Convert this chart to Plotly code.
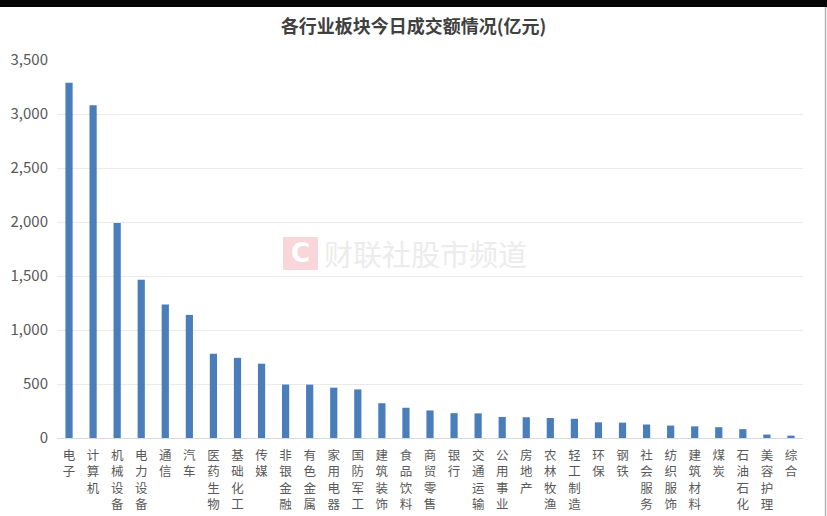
import plotly.graph_objects as go

title = "各行业板块今日成交额情况(亿元)"
categories = ["电子", "计算机", "机械设备", "电力设备", "通信", "汽车", "医药生物", "基础化工",
              "传媒", "非银金融", "有色金属", "家用电器", "国防军工", "建筑装饰", "食品饮料",
              "商贸零售", "银行", "交通运输", "公用事业", "房地产", "农林牧渔", "轻工制造",
              "环保", "钢铁", "社会服务", "纺织服饰", "建筑材料", "煤炭", "石油石化", "美容护理", "综合"]
values = [3290, 3080, 1990, 1465, 1235, 1140, 780, 742, 688, 495, 494, 466, 450, 322, 280,
          255, 230, 228, 195, 192, 185, 178, 145, 142, 125, 115, 108, 100, 82, 32, 22]
y_ticks = [0, 500, 1000, 1500, 2000, 2500, 3000, 3500]
watermark = "财联社股市频道"

FONT = "Noto Sans CJK SC"
labels = ["<br>".join(list(c)) for c in categories]

fig = go.Figure(go.Bar(
    x=labels, y=values,
    marker=dict(color="#4A7EBB", line=dict(width=0)),
    width=0.3,
    hoverinfo="x+y",
))

L, R, T, B = 57, 24, 60, 78
W, H = 827, 516
pw, ph = W - L - R, H - T - B

def px_x(p):
    return (p - L) / pw

def px_y(p):
    return (H - B - p) / ph

shapes = [
    # top dark band
    dict(type="rect", xref="paper", yref="paper", x0=px_x(-5), x1=px_x(W + 5),
         y0=px_y(7), y1=px_y(-5), fillcolor="#050505", line=dict(width=0), layer="above"),
    # right border line
    dict(type="line", xref="paper", yref="paper", x0=px_x(825.5), x1=px_x(825.5),
         y0=px_y(H + 5), y1=px_y(7), line=dict(color="#b5b5b5", width=1.5)),
    # watermark logo
    dict(type="rect", xref="paper", yref="paper", x0=px_x(283), x1=px_x(318),
         y0=px_y(270), y1=px_y(237), fillcolor="#f9d6da", line=dict(width=0), layer="below"),
]

annotations = [
    dict(text="<b>C</b>", xref="paper", yref="paper", x=px_x(300.5), y=px_y(253.5),
         showarrow=False, font=dict(family="DejaVu Sans", size=26, color="white"),
         xanchor="center", yanchor="middle"),
    dict(text=watermark, xref="paper", yref="paper", x=px_x(322), y=px_y(253.5),
         showarrow=False, font=dict(family=FONT, size=29, color="#ececec"),
         xanchor="left", yanchor="middle"),
]

fig.update_layout(
    width=W, height=H,
    margin=dict(l=L, r=R, t=T, b=B, pad=0),
    paper_bgcolor="white", plot_bgcolor="white",
    title=dict(text="<b>" + title + "</b>", x=0.5, xanchor="center", y=1 - 27 / H, yanchor="middle",
               font=dict(family=FONT, size=18, color="#404040")),
    font=dict(family=FONT, color="#595959"),
    showlegend=False,
    bargap=0.7,
    xaxis=dict(showgrid=False, showline=True, linecolor="#d9d9d9", linewidth=1,
               ticks="", tickfont=dict(size=12.5, color="#595959"), tickangle=0,
               ticklabelstandoff=6, automargin=False, fixedrange=True),
    yaxis=dict(range=[0, 3500], tickvals=y_ticks, tickformat=",", showgrid=True,
               gridcolor="#ebebeb", gridwidth=1, zeroline=False, showline=False,
               ticks="", tickfont=dict(size=15, color="#595959"), ticklabelstandoff=8,
               automargin=False),
    shapes=shapes,
    annotations=annotations,
)

fig.write_html("out.html")
